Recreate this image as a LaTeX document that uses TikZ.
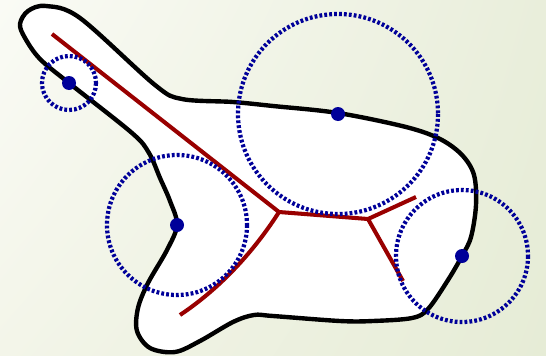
\documentclass[tikz,border=0pt]{standalone}
\usetikzlibrary{shadings}

\definecolor{skelred}{RGB}{153,0,0}
\definecolor{ballblue}{RGB}{0,0,153}
\definecolor{bgA}{RGB}{250,251,245}
\definecolor{bgB}{RGB}{233,238,219}
\definecolor{bgC}{RGB}{243,245,233}
\definecolor{bgD}{RGB}{230,236,214}

\tikzset{
  outline/.style={line width=2.5pt, line join=round, fill=white},
  skeleton/.style={skelred, line width=2.3pt},
  ball/.style={ballblue, line width=2.4pt, dash pattern=on 1.6pt off 1.2pt},
  touch/.style={fill=ballblue}
}

\begin{document}
\begin{tikzpicture}[x=0.02cm, y=-0.02cm]
  \shade[upper left=bgA, upper right=bgB, lower left=bgC, lower right=bgD] (0,0) rectangle (546,355);
  \useasboundingbox (0,0) rectangle (546,355);

  \draw[outline] plot[smooth cycle, tension=0.55] coordinates {
    (20,24) (28,11) (46,6) (80,18) (155,85) (182,99)
    (233,102) (273,106) (338,113) (406,127) (440,139) (462,155) (474,175)
    (476,205) (471,237) (462,256) (448,280) (428,309) (412,318) (373,321)
    (340,321) (273,316) (254,315) (233,322) (200,341) (175,352) (150,348)
    (137,331) (138,308) (148,283) (167,250) (177,225) (170,201) (160,178)
    (149,153) (132,133) (69,83) (40,59) (25,38)};

  \coordinate (tip) at (52,34);
  \coordinate (j1) at (279,212);
  \coordinate (j2) at (368,219);
  \coordinate (e1) at (180,315);
  \coordinate (e2) at (416,197);
  \coordinate (e3) at (403,281);
  \draw[skeleton] (tip) -- (j1) -- (j2) -- (e2);
  \draw[skeleton] (j1) .. controls (258,245) and (225,285) .. (e1);
  \draw[skeleton] (j2) -- (e3);

  \coordinate (c1) at (69,83);
  \coordinate (c2) at (338,114);
  \coordinate (c3) at (177,225);
  \coordinate (c4) at (462,256);
  \draw[ball] (c1) circle[radius=27];
  \draw[ball] (c2) circle[radius=100];
  \draw[ball] (c3) circle[radius=70];
  \draw[ball] (c4) circle[radius=66];
  \foreach \c in {c1,c2,c3,c4}
    \fill[touch] (\c) circle[radius=7];
\end{tikzpicture}
\end{document}
